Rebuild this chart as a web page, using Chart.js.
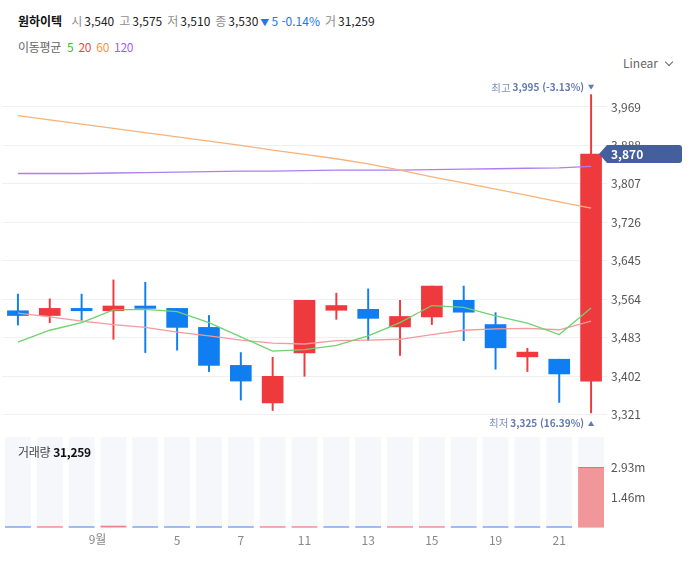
<!DOCTYPE html>
<html lang="ko">
<head>
<meta charset="utf-8">
<script src="https://cdn.jsdelivr.net/npm/chart.js@4.4.0/dist/chart.umd.min.js"></script>
<style>
  body { margin:0; width:698px; height:561px; background:#fff; position:relative; overflow:hidden;
         font-family:"Noto Sans CJK KR","Noto Sans",sans-serif; }
  .line { position:absolute; left:18px; font-size:12px; white-space:nowrap; letter-spacing:-0.3px; }
  .k { color:#8e8e8e; margin-left:5px; }
  .v { color:#222; margin-left:2px; }
  .chg { color:#1b7ae6; margin-left:2px; }
  .chg small { font-size:9px; margin-right:2px; }
  #linear { position:absolute; left:623px; top:54px; font-size:12px; color:#666; }
  #linear i { display:inline-block; width:5px; height:5px; border-right:1.3px solid #666; border-bottom:1.3px solid #666;
              transform:rotate(45deg); margin-left:8px; position:relative; top:-3px; }
  #volLabel { position:absolute; left:18px; top:443px; font-size:12px; color:#444; letter-spacing:-0.3px; }
  #volLabel b { color:#111; }
  #priceBox { position:absolute; left:0; top:70px; width:698px; height:360px; }
  #volBox { position:absolute; left:0; top:430px; width:698px; height:131px; }
</style>
</head>
<body>
<div class="line" style="top:12px;letter-spacing:0">
  <b style="color:#111">원하이텍</b><span class="k" style="margin-left:9px">시</span><span class="v">3,540</span><span class="k">고</span><span class="v">3,575</span><span class="k">저</span><span class="v">3,510</span><span class="k">종</span><span class="v">3,530</span><span class="chg"><small>▼</small>5 -0.14%</span><span class="k">거</span><span class="v">31,259</span>
</div>
<div class="line" style="top:38px">
  <span style="color:#666">이동평균</span>
  <span style="color:#2fbf2f;margin-left:3px">5</span>
  <span style="color:#f04848;margin-left:2px">20</span>
  <span style="color:#f5964b;margin-left:2px">60</span>
  <span style="color:#a55ef0;margin-left:2px">120</span>
</div>
<div id="linear">Linear<i></i></div>
<div id="priceBox"><canvas id="price"></canvas></div>
<div id="volBox"><canvas id="vol"></canvas></div>
<div id="volLabel">거래량 <b>31,259</b></div>

<script>
// trading days (month/day)
const dates = ['8/29','8/30','8/31','9/1','9/4','9/5','9/6','9/7','9/8','9/11','9/12','9/13','9/14','9/15','9/18','9/19','9/20','9/21','9/22'];
const xTickLabels = ['', '', '', '', '', '5', '', '7', '', '11', '', '13', '', '15', '', '19', '', '21', ''];
const monthLabel = '9월';

const opens  = [3540, 3530, 3545, 3540, 3550, 3545, 3505, 3425, 3346, 3451, 3541, 3543, 3506, 3527, 3562, 3511, 3443, 3438, 3392];
const highs  = [3575, 3565, 3575, 3605, 3600, 3545, 3530, 3452, 3442, 3562, 3577, 3586, 3562, 3592, 3592, 3536, 3461, 3438, 3995];
const lows   = [3510, 3515, 3520, 3480, 3452, 3457, 3412, 3352, 3330, 3402, 3522, 3477, 3446, 3511, 3477, 3417, 3412, 3347, 3325];
const closes = [3530, 3545, 3540, 3550, 3545, 3505, 3425, 3392, 3402, 3562, 3551, 3524, 3528, 3592, 3537, 3462, 3453, 3407, 3870];
const volumes = [31259, 38000, 30000, 95000, 33000, 36000, 34000, 35000, 32000, 40000, 37000, 33000, 36000, 42000, 35000, 38000, 0, 36000, 2930000];

// moving averages
const ma5   = [3474, 3499, 3515, 3542, 3543, 3538, 3515, 3485, 3455, 3458, 3467, 3487, 3515, 3551, 3547, 3529, 3514, 3490, 3546];
const ma20  = [3535, 3527, 3518, 3511, 3505, 3495, 3487, 3478, 3472, 3470, 3477, 3478, 3480, 3490, 3499, 3502, 3503, 3500, 3518];
const ma60  = [3951, 3942, 3933, 3924, 3915, 3906, 3897, 3888, 3878, 3869, 3860, 3849, 3836, 3822, 3809, 3796, 3783, 3769, 3756];
const ma120 = [3829, 3829, 3829, 3830, 3831, 3832, 3833, 3834, 3834, 3835, 3836, 3836, 3836, 3837, 3838, 3839, 3840, 3841, 3844];

const priceTicks = [3321, 3402, 3483, 3564, 3645, 3726, 3807, 3888, 3969];
const volumeTicks = [1460000, 2930000];

const RED = '#ef3a3d';
const BLUE = '#0e7ef0';
const FONT = "'Noto Sans CJK KR', 'Noto Sans', sans-serif";

Chart.defaults.font.family = FONT;
Chart.defaults.font.size = 12;
Chart.defaults.color = '#555';
Chart.defaults.animation = false;
Chart.defaults.plugins.legend.display = false;
Chart.defaults.plugins.tooltip.enabled = false;

const candleColor = closes.map((c, i) => c >= opens[i] ? RED : BLUE);
const volUp = closes.map((c, i) => i === 0 ? c >= opens[i] : c >= closes[i - 1]);

function maLine(data, color) {
  return { type: 'line', data: data, borderColor: color, borderWidth: 1.3, pointRadius: 0, tension: 0, order: 0 };
}

// right axis: fixed width, no extra label padding on top/bottom
function fitRight(s) {
  s.width = 91;
  s.paddingTop = 0;
  s.paddingBottom = 0;
}

// high / low markers and the last price tag
const priceMarks = {
  id: 'priceMarks',
  afterDraw(chart) {
    const ctx = chart.ctx, xs = chart.scales.x, ys = chart.scales.y;
    const last = closes[closes.length - 1];
    const hi = Math.max(...highs), lo = Math.min(...lows);
    const hiX = xs.getPixelForValue(highs.indexOf(hi));
    const loX = xs.getPixelForValue(lows.indexOf(lo));

    function mark(word, value, x, y, down) {
      const pct = ((last - value) / value * 100).toFixed(2);
      const num = value.toLocaleString('en-US') + ' (' + pct + '%)';
      ctx.save();
      ctx.textBaseline = 'middle';
      ctx.textAlign = 'right';
      ctx.font = '600 10px ' + FONT;
      ctx.fillStyle = '#6179b4';
      ctx.fillText(num, x - 7, y);
      const w = ctx.measureText(num).width;
      ctx.font = '10.5px ' + FONT;
      ctx.fillStyle = '#7d90c2';
      ctx.fillText(word, x - 9 - w, y);
      ctx.fillStyle = '#6179b4';
      ctx.beginPath();
      if (down) { ctx.moveTo(x - 3, y - 3); ctx.lineTo(x + 3, y - 3); ctx.lineTo(x, y + 2); }
      else { ctx.moveTo(x - 3, y + 3); ctx.lineTo(x + 3, y + 3); ctx.lineTo(x, y - 2); }
      ctx.fill();
      ctx.restore();
    }
    mark('최고', hi, hiX, ys.getPixelForValue(hi) - 7, true);
    mark('최저', lo, loX, ys.getPixelForValue(lo) + 10, false);

    // price tag
    const y = ys.getPixelForValue(last);
    const left = chart.chartArea.right;
    ctx.save();
    ctx.fillStyle = '#455e9c';
    ctx.beginPath();
    ctx.moveTo(left - 8, y);
    ctx.lineTo(left, y - 9);
    ctx.lineTo(left + 72, y - 9);
    ctx.quadraticCurveTo(left + 75, y - 9, left + 75, y - 6);
    ctx.lineTo(left + 75, y + 6);
    ctx.quadraticCurveTo(left + 75, y + 9, left + 72, y + 9);
    ctx.lineTo(left, y + 9);
    ctx.closePath();
    ctx.fill();
    ctx.fillStyle = '#fff';
    ctx.font = 'bold 12px ' + FONT;
    ctx.textBaseline = 'middle';
    ctx.textAlign = 'left';
    ctx.fillText(last.toLocaleString('en-US'), left + 4, y + 0.5);
    ctx.restore();
  }
};

new Chart(document.getElementById('price'), {
  type: 'bar',
  data: {
    labels: dates,
    datasets: [
      maLine(ma5, '#6fd26f'),
      maLine(ma20, '#f59a9c'),
      maLine(ma60, '#f7b27a'),
      maLine(ma120, '#b07ef2'),
      { data: opens.map((o, i) => [o, closes[i]]), backgroundColor: candleColor, barThickness: 21, grouped: false, minBarLength: 2, order: 5 },
      { data: lows.map((l, i) => [l, highs[i]]), backgroundColor: candleColor, barThickness: 1.3, grouped: false, order: 6 }
    ]
  },
  options: {
    maintainAspectRatio: false,
    layout: { padding: { left: 2, top: 8, right: 0, bottom: 0 } },
    scales: {
      x: { display: false, offset: true },
      y: {
        position: 'right',
        min: 3289,
        max: 4030,
        afterBuildTicks: s => { s.ticks = priceTicks.map(v => ({ value: v })); },
        afterFit: fitRight,
        grid: { color: '#eff0f3', drawTicks: false },
        border: { display: false },
        ticks: { padding: 4, color: '#555', callback: v => v.toLocaleString('en-US') }
      }
    }
  },
  plugins: [priceMarks]
});

// grey column behind each volume bar + month label on the boundary
const volumeExtras = {
  id: 'volumeExtras',
  beforeDatasetsDraw(chart) {
    const ctx = chart.ctx, xs = chart.scales.x, a = chart.chartArea;
    ctx.save();
    ctx.fillStyle = '#f6f7fb';
    dates.forEach((d, i) => {
      const x = xs.getPixelForValue(i);
      ctx.fillRect(x - 13, a.top, 26, a.bottom - a.top);
    });
    ctx.restore();
  },
  afterDraw(chart) {
    const ctx = chart.ctx, xs = chart.scales.x, a = chart.chartArea;
    const b = dates.findIndex((d, i) => i > 0 && d.split('/')[0] !== dates[i - 1].split('/')[0]);
    const x = (xs.getPixelForValue(b - 1) + xs.getPixelForValue(b)) / 2;
    ctx.save();
    ctx.font = '12px ' + FONT;
    ctx.fillStyle = '#888';
    ctx.textAlign = 'center';
    ctx.textBaseline = 'top';
    ctx.fillText(monthLabel, x, a.bottom + 6);
    ctx.restore();
  }
};

new Chart(document.getElementById('vol'), {
  type: 'bar',
  data: {
    labels: dates,
    datasets: [{
      data: volumes,
      backgroundColor: volUp.map(u => u ? '#f19799' : '#7aa9ee'),
      borderColor: volUp.map(u => u ? '#ef6d70' : '#5b95ea'),
      borderWidth: { top: 1, left: 0, right: 0, bottom: 0 },
      borderSkipped: 'start',
      barThickness: 26,
      minBarLength: 1
    }]
  },
  options: {
    maintainAspectRatio: false,
    layout: { padding: { left: 2, top: 7, right: 0, bottom: 0 } },
    scales: {
      x: {
        offset: true,
        grid: { display: false, drawTicks: false },
        border: { display: false },
        afterFit: s => { s.height = 33.3; },
        ticks: { autoSkip: false, maxRotation: 0, padding: 6, color: '#888', callback: (v, i) => xTickLabels[i] }
      },
      y: {
        position: 'right',
        min: 0,
        max: 4410000,
        afterBuildTicks: s => { s.ticks = volumeTicks.map(v => ({ value: v })); },
        afterFit: fitRight,
        grid: { display: false, drawTicks: false },
        border: { display: false },
        ticks: { padding: 4, color: '#555', callback: v => (v / 1e6).toFixed(2) + 'm' }
      }
    }
  },
  plugins: [volumeExtras]
});
</script>
</body>
</html>
